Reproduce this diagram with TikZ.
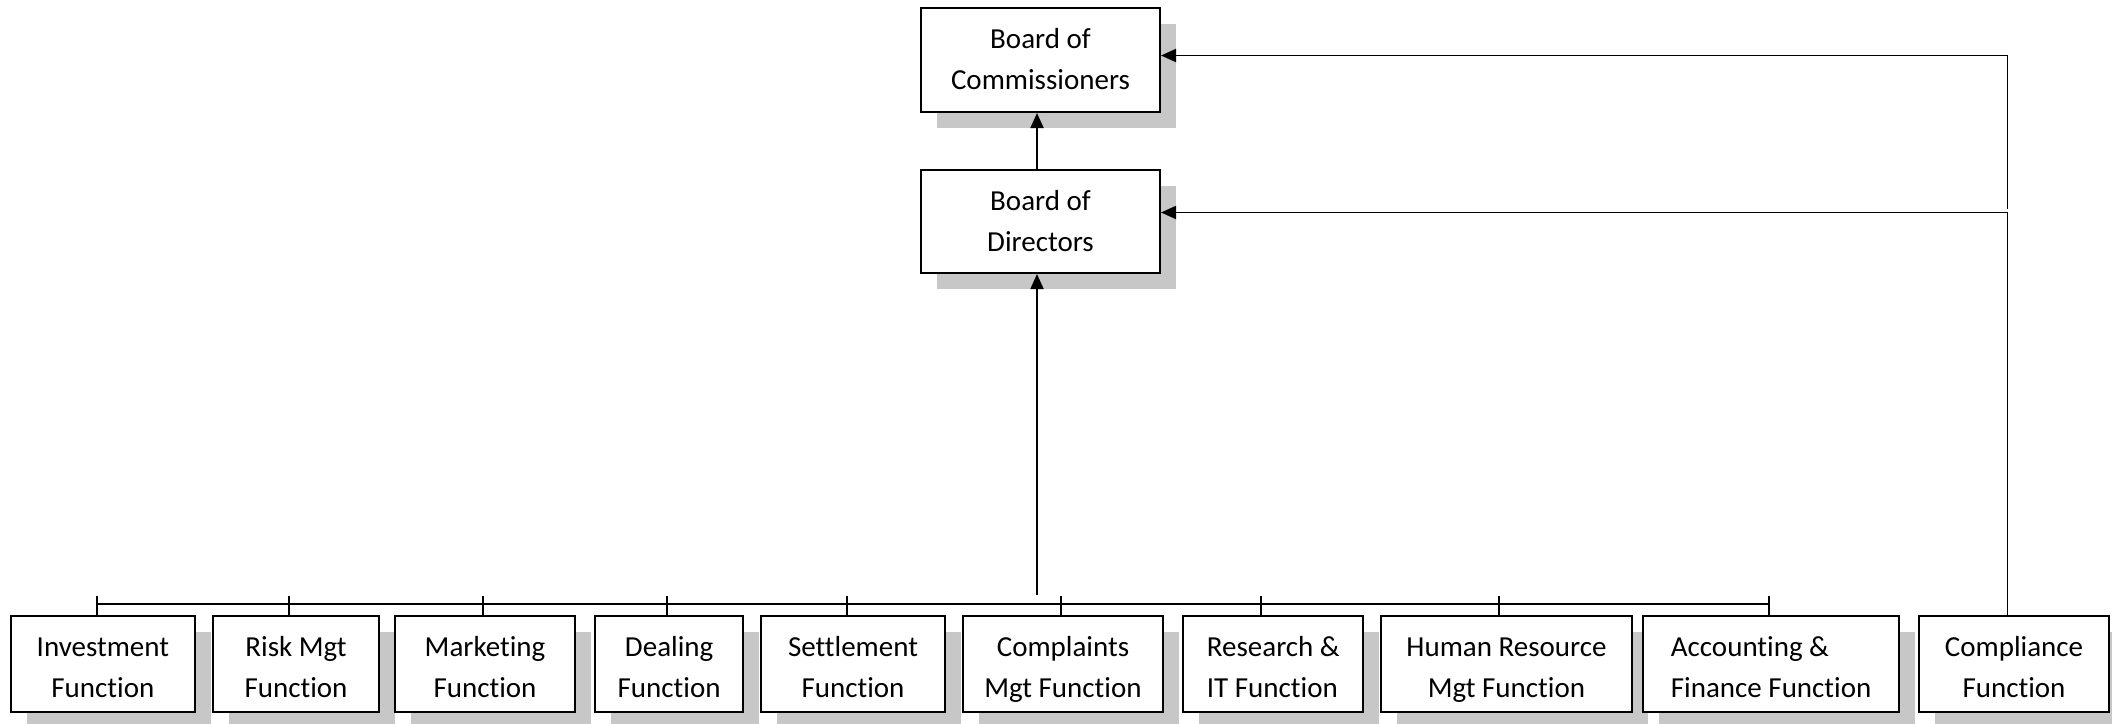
\documentclass[tikz,border=0pt]{standalone}
\usepackage{fontspec}
\setmainfont{Carlito}[Ligatures=NoCommon]
\usetikzlibrary{arrows.meta}
\newcommand\orgunit[8][center]{%
  \fill[shade] ({#3+16},{#4+16}) rectangle ({#5+16},{#6+16});
  \pgfmathsetlengthmacro\orgtop{14.2pt+(53-(#6-#4)/2)*1pt}%
  \node[orgbox, align=#1, minimum width={(#5-#3)*0.5pt}, minimum height={(#6-#4)*0.5pt}] (#2) at ({(#3+#5)/2},{(#4+#6)/2}) {\rule{0pt}{\orgtop}#7\\\strut#8};
}
\begin{document}
\begin{tikzpicture}[x=0.5pt,y=-0.5pt,
  orgbox/.style={draw=black, line width=1pt, fill=white, inner sep=0pt, font=\fontsize{14.5}{20.3}\selectfont},
  conn/.style={line width=0.95pt},
  arr/.style={conn, -{Triangle[length=7.5pt,width=6.5pt]}},
  shade/.style={fill=black!22}]
\useasboundingbox (0,0) rectangle (2112,723);
\clip (0,0) rectangle (2112,723);

% top boxes
\orgunit{boc}{921}{8}{1160}{112}{Board of}{Commissioners}
\orgunit{bod}{921}{170}{1160}{273}{Board of}{Directors}

% bottom row
\orgunit{inv}{10.7}{616}{195}{712}{Investment}{Function}
\orgunit{risk}{212.7}{616}{379.3}{712}{Risk Mgt}{Function}
\orgunit{mkt}{395}{616}{575}{712}{Marketing}{Function}
\orgunit{deal}{595}{616}{743.3}{712}{Dealing}{Function}
\orgunit{sett}{760.7}{616}{945.3}{712}{Settlement}{Function}
\orgunit{cmp}{962.7}{616}{1163.3}{712}{Complaints}{Mgt Function}
\orgunit[left]{res}{1183.3}{616}{1363.3}{712}{Research \&}{IT Function}
\orgunit{hr}{1381}{616}{1632}{712}{Human Resource}{Mgt Function}
\orgunit[left]{acc}{1643}{616}{1899.3}{712}{Accounting \&}{Finance Function}
\orgunit{cpl}{1919.3}{616}{2108.7}{712}{Compliance}{Function}

% bus line and ticks
\coordinate (busL) at (97,604);
\coordinate (busR) at (1769.3,604);
\draw[conn] (busL) -- (busR);
\coordinate (t1) at (97,596);
\coordinate (t2) at (288.7,596);
\coordinate (t3) at (483,596);
\coordinate (t4) at (667.3,596);
\coordinate (t5) at (847,596);
\coordinate (t6) at (1061,596);
\coordinate (t7) at (1261,596);
\coordinate (t8) at (1499.3,596);
\coordinate (t9) at (1769.3,596);
\draw[conn] (t1) -- (t1 |- inv.north);
\draw[conn] (t2) -- (t2 |- risk.north);
\draw[conn] (t3) -- (t3 |- mkt.north);
\draw[conn] (t4) -- (t4 |- deal.north);
\draw[conn] (t5) -- (t5 |- sett.north);
\draw[conn] (t6) -- (t6 |- cmp.north);
\draw[conn] (t7) -- (t7 |- res.north);
\draw[conn] (t8) -- (t8 |- hr.north);
\draw[conn] (t9) -- (t9 |- acc.north);

% main vertical arrows
\coordinate (mid) at (1037,595);
\draw[arr] (mid) -- (mid |- bod.south);
\draw[arr] (mid |- bod.north) -- (mid |- boc.south);

% compliance connectors
\coordinate (r1) at (2007.5,212.5);
\coordinate (r0) at (2007.5,209);
\coordinate (r2) at (2007.5,55.5);
\draw[arr] (r1 |- cpl.north) -- (r1) -- (bod.east |- r1);
\draw[arr] (r0) -- (r2) -- (boc.east |- r2);
\end{tikzpicture}
\end{document}
